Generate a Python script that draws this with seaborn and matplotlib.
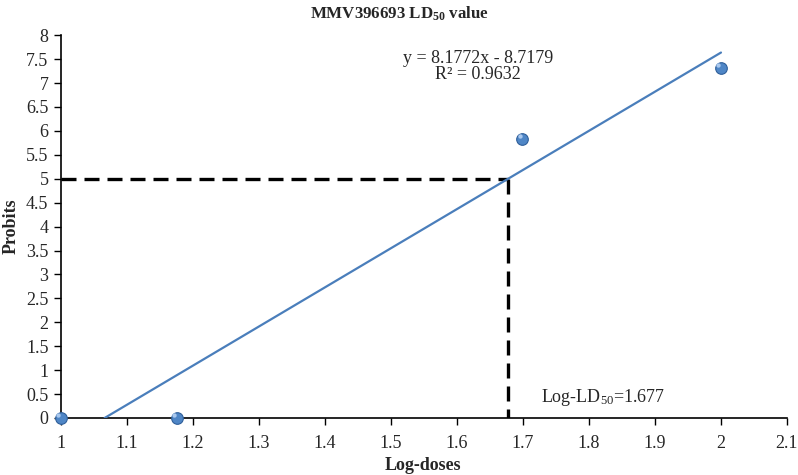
import matplotlib
matplotlib.use("Agg")
import matplotlib.pyplot as plt
import numpy as np
import pandas as pd
import seaborn as sns

# data
log_doses = [1.0, 1.176, 1.699, 2.0]
probits = [0.0, 0.0, 5.84, 7.31]
slope = 8.1772
intercept = -8.7179
r_squared = 0.9632
log_ld50 = 1.677
probit_50 = 5.0

x_ticks = np.round(np.arange(1.0, 2.11, 0.1), 1)
y_ticks = np.arange(0, 8.01, 0.5)

sns.set_theme(style="white")
plt.rcParams["font.family"] = ["Liberation Serif", "DejaVu Serif"]
plt.rcParams["mathtext.fontset"] = "custom"
plt.rcParams["mathtext.rm"] = "Liberation Serif"
plt.rcParams["mathtext.bf"] = "Liberation Serif:bold"
plt.rcParams["mathtext.default"] = "regular"

fig = plt.figure(figsize=(7.98, 4.75), dpi=100)
ax = fig.add_axes([0.0764, 0.12, 0.9098, 0.806])

points = pd.DataFrame({"dose": log_doses, "probit": probits})

# fitted line, from where it crosses zero up to the last dose
x_line = np.array([-intercept / slope, max(log_doses)])
fit = pd.DataFrame({"dose": x_line, "probit": slope * x_line + intercept})
sns.lineplot(data=fit, x="dose", y="probit", ax=ax, color="#4a7ebb", lw=1.6,
             zorder=3)

# LD50 guide lines
ax.plot([x_ticks[0], log_ld50], [probit_50, probit_50], color="black", lw=2.4,
        linestyle=(0, (4.5, 2.4)), zorder=2)
ax.plot([log_ld50, log_ld50], [probit_50, 0], color="black", lw=2.4,
        linestyle=(0, (4.5, 2.4)), zorder=2)

sns.scatterplot(data=points, x="dose", y="probit", ax=ax, s=70,
                color="#4f86c6", edgecolor="#2f5f9a", linewidth=0.8,
                zorder=5, clip_on=False)
# small highlight to imitate the shaded sphere markers
ax.scatter(np.array(log_doses) - 0.004, np.array(probits) + 0.06, s=10,
           color="#a9c8ee", lw=0, zorder=6, clip_on=False)

ax.set_xlim(1.0, 2.1)
ax.set_ylim(0, 8)
ax.set_xticks(x_ticks)
ax.set_xticklabels([f"{t:g}" for t in x_ticks])
ax.set_yticks(y_ticks)
ax.set_yticklabels([f"{t:g}" for t in y_ticks])
ax.tick_params(axis="both", labelsize=13, direction="out", length=5,
               width=1, color="black", left=True, bottom=True, pad=4)
ax.tick_params(axis="x", pad=7)

for side in ["top", "right"]:
    ax.spines[side].set_visible(False)
for side in ["left", "bottom"]:
    ax.spines[side].set_color("black")
    ax.spines[side].set_linewidth(1.2)

ax.set_xlabel("Log-doses", fontsize=13, fontweight="bold", va="center")
ax.set_ylabel("Probits", fontsize=13, fontweight="bold", va="center")
ax.xaxis.set_label_coords(0.498, -0.123)
ax.yaxis.set_label_coords(-0.068, 0.5)
fig.text(0.501, 0.972, r"MMV396693 LD$_{\mathbf{50}}$ value", ha="center",
         va="center", fontsize=12.2, fontweight="bold")

ax.text(1.632, 7.35, f"y = {slope}x - {abs(intercept)}\nR² = {r_squared}",
        ha="center", va="center", fontsize=13, linespacing=0.95)
ax.text(1.727, 0.42, f"Log-LD$_{{50}}$={log_ld50}", ha="left",
        va="center", fontsize=13)

fig.savefig("out.png", dpi=100)
